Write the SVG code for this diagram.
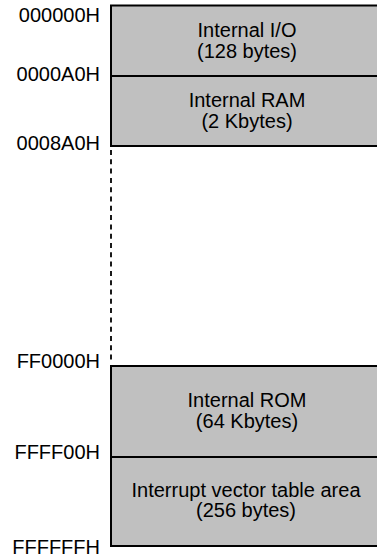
<svg xmlns="http://www.w3.org/2000/svg" width="377" height="558" viewBox="0 0 377 558">
<style>
  .t { font-family: "Liberation Sans", Arial, sans-serif; font-size: 20px; fill: #000; }
  .addr { text-anchor: end; }
  .lbl { text-anchor: middle; }
  .blk { fill: #c0c0c0; stroke: #000; stroke-width: 2; }
</style>
<rect width="377" height="558" fill="#fff"/>
<g id="connectors">
  <line x1="111" y1="150" x2="111" y2="362" stroke="#000" stroke-width="1.8" stroke-dasharray="5,4.3"/>
</g>
<g id="internal-io">
  <rect class="blk" x="111" y="5.5" width="300" height="70.5"/>
  <text class="t lbl" x="247" y="37">Internal I/O</text>
  <text class="t lbl" x="247" y="58">(128 bytes)</text>
</g>
<g id="internal-ram">
  <rect class="blk" x="111" y="76" width="300" height="70"/>
  <text class="t lbl" x="247" y="107">Internal RAM</text>
  <text class="t lbl" x="247" y="128">(2 Kbytes)</text>
</g>
<g id="internal-rom">
  <rect class="blk" x="111" y="366" width="300" height="91"/>
  <text class="t lbl" x="247" y="407">Internal ROM</text>
  <text class="t lbl" x="247" y="428">(64 Kbytes)</text>
</g>
<g id="vector-table">
  <rect class="blk" x="111" y="457" width="300" height="89"/>
  <text class="t lbl" x="246" y="497">Interrupt vector table area</text>
  <text class="t lbl" x="246" y="517">(256 bytes)</text>
</g>
<g id="addresses">
  <text class="t addr" x="100" y="22">000000H</text>
  <text class="t addr" x="100" y="81">0000A0H</text>
  <text class="t addr" x="100" y="150">0008A0H</text>
  <text class="t addr" x="100" y="368">FF0000H</text>
  <text class="t addr" x="100" y="459">FFFF00H</text>
  <text class="t addr" x="100" y="554">FFFFFFH</text>
</g>
</svg>
